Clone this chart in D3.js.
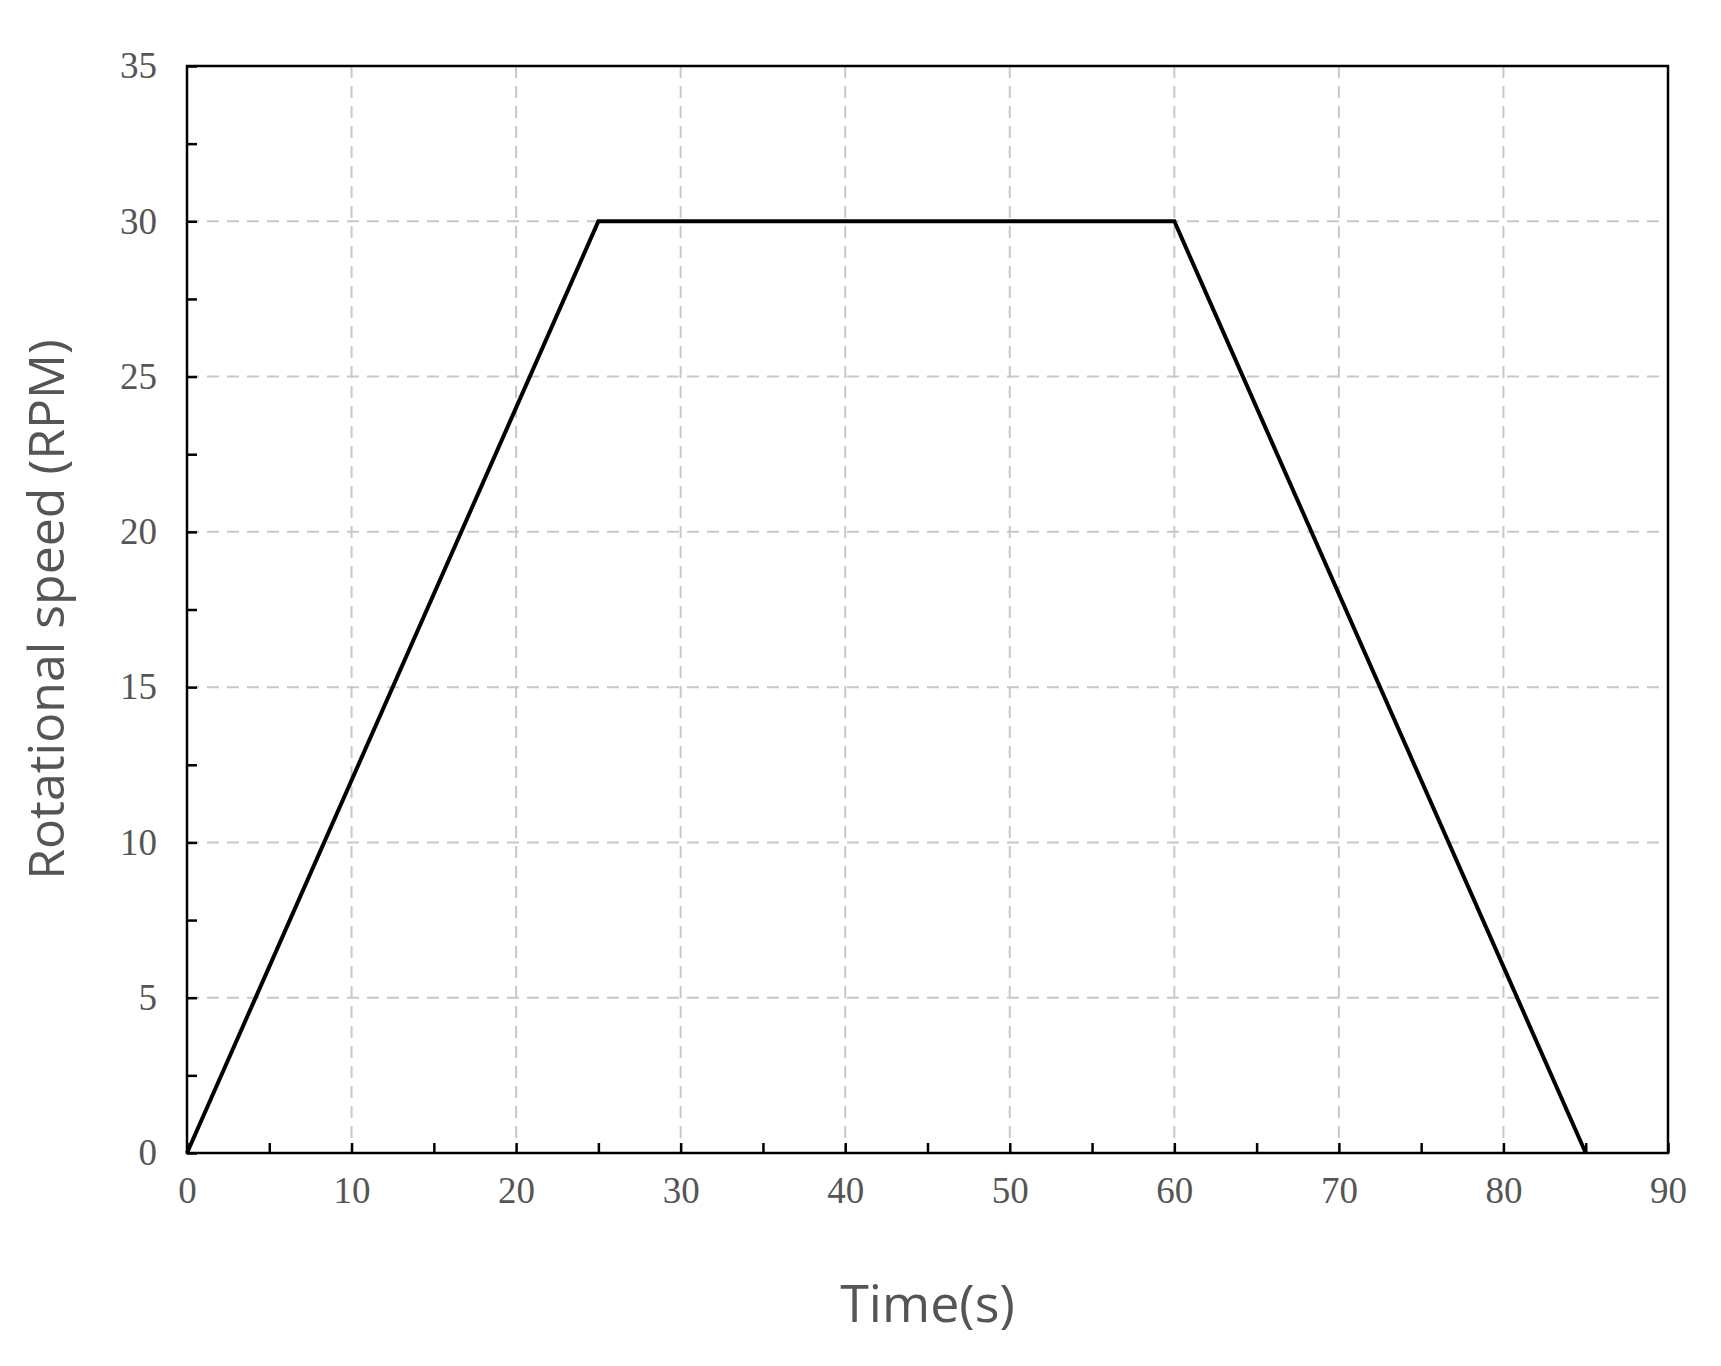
<!DOCTYPE html>
<html>
<head>
<meta charset="utf-8">
<script src="https://cdn.jsdelivr.net/npm/d3@7"></script>
<style>
  body { margin: 0; background: #fff; }
</style>
</head>
<body>
<div class="chart"></div>
<script>
// profile points
const timeValues = [0, 25, 60, 85];
const speedValues = [0, 30, 30, 0];
const xTicks = [0, 10, 20, 30, 40, 50, 60, 70, 80, 90];
const yTicks = [0, 5, 10, 15, 20, 25, 30, 35];

const W = 1721, H = 1366;
const margin = { top: 66, right: 53, bottom: 213, left: 187 };
const w = W - margin.left - margin.right,
    h = H - margin.top - margin.bottom;

const xScale = d3.scaleLinear().domain([0, 90]).range([0, w]);
const yScale = d3.scaleLinear().domain([0, 35]).range([h, 0]);

const svg = d3.select("div.chart").append("svg")
    .attr("width", W).attr("height", H);
const g = svg.append("g")
    .attr("transform", "translate(" + margin.left + "," + margin.top + ")");

// grid
g.selectAll("line.gx").data(xTicks.slice(1, -1)).enter().append("line")
    .attr("x1", d => xScale(d)).attr("x2", d => xScale(d))
    .attr("y1", 0).attr("y2", h)
    .attr("stroke", "#c8c8c8").attr("stroke-width", 2).attr("stroke-dasharray", "12,8");
g.selectAll("line.gy").data(yTicks.slice(1, -1)).enter().append("line")
    .attr("x1", 0).attr("x2", w)
    .attr("y1", d => yScale(d)).attr("y2", d => yScale(d))
    .attr("stroke", "#c8c8c8").attr("stroke-width", 2).attr("stroke-dasharray", "12,8");

// axes
const xAxis = g.append("g").attr("transform", "translate(0," + h + ")")
    .call(d3.axisBottom(xScale).tickValues(d3.range(0, 91, 5)).tickSize(-10).tickPadding(24)
        .tickFormat(d => d % 10 === 0 ? d : ""));
const yAxis = g.append("g")
    .call(d3.axisLeft(yScale).tickValues(d3.range(0, 35.1, 2.5)).tickSize(-10).tickPadding(30)
        .tickFormat(d => d % 5 === 0 ? d : ""));
[xAxis, yAxis].forEach(a => {
    a.select(".domain").remove();
    a.selectAll("line").attr("stroke", "#000").attr("stroke-width", 2.5);
    a.selectAll("text").attr("font-family", "Liberation Serif, serif")
        .attr("font-size", 37).attr("fill", "#555");
});

// frame
g.append("rect").attr("width", w).attr("height", h)
    .attr("fill", "none").attr("stroke", "#000").attr("stroke-width", 2.5);

// line
g.append("path")
    .datum(timeValues.map((t, i) => [t, speedValues[i]]))
    .attr("d", d3.line().x(d => xScale(d[0])).y(d => yScale(d[1])))
    .attr("fill", "none").attr("stroke", "#000").attr("stroke-width", 4);

// titles
svg.append("text").attr("x", margin.left + w / 2).attr("y", 1322)
    .attr("text-anchor", "middle").attr("font-family", "Open Sans, sans-serif")
    .attr("font-size", 52).attr("fill", "#555").text("Time(s)");
svg.append("text").attr("transform", "translate(64," + (margin.top + h / 2) + ") rotate(-90)")
    .attr("text-anchor", "middle").attr("font-family", "Open Sans, sans-serif")
    .attr("font-size", 50).attr("fill", "#555").text("Rotational speed (RPM)");
</script>
</body>
</html>
